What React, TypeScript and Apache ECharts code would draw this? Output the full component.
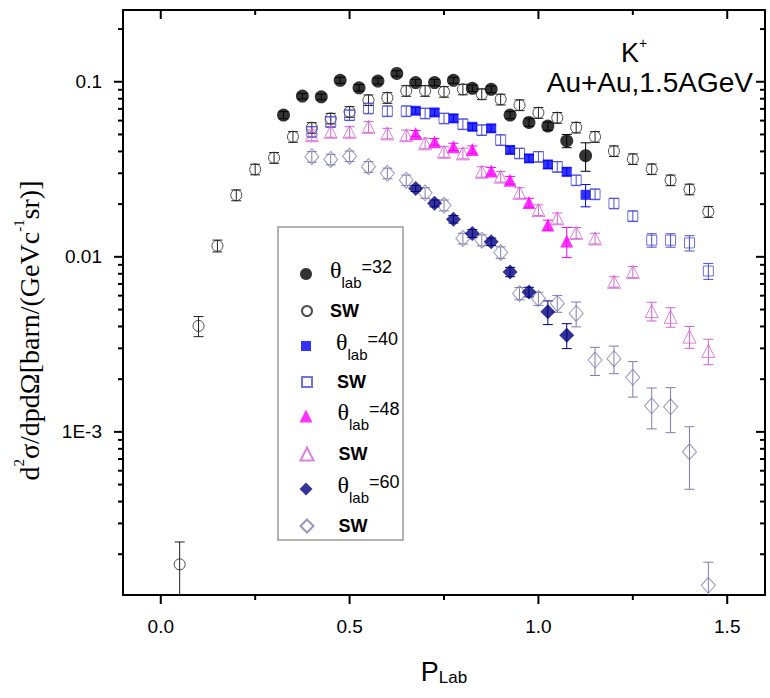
import React, { useEffect, useRef } from 'react';
import * as echarts from 'echarts';

const SANS = "'Liberation Sans', Arial, sans-serif";
const SERIF = "'Liberation Serif', 'Times New Roman', serif";

const X_MIN = -0.1;
const X_MAX = 1.6;
const Y_MIN = 1.17e-4;
const Y_MAX = 0.257;

const xMajorTicks = [0, 0.5, 1.0, 1.5];
const xMinorTicks = [0.25, 0.75, 1.25];
const yMajorTicks = [0.001, 0.01, 0.1];
const yMinorTicks = [
  2e-4, 3e-4, 4e-4, 5e-4, 6e-4, 7e-4, 8e-4, 9e-4,
  0.002, 0.003, 0.004, 0.005, 0.006, 0.007, 0.008, 0.009,
  0.02, 0.03, 0.04, 0.05, 0.06, 0.07, 0.08, 0.09, 0.2,
];
const yTickLabels: Record<string, string> = { '-3': '1E-3', '-2': '0.01', '-1': '0.1' };

// theta_lab = 32 (data)
const theta32X = [0.325, 0.375, 0.425, 0.475, 0.525, 0.575, 0.625, 0.675, 0.725, 0.775, 0.825, 0.875, 0.925, 0.975, 1.025, 1.075, 1.125];
const theta32Y = [0.0645, 0.0828, 0.082, 0.102, 0.0924, 0.101, 0.1116, 0.099, 0.099, 0.102, 0.0917, 0.0905, 0.0645, 0.0586, 0.0558, 0.046, 0.0378];
const theta32Err = [0.003, 0.003, 0.003, 0.004, 0.004, 0.004, 0.004, 0.004, 0.004, 0.004, 0.004, 0.004, 0.003, 0.003, 0.003, 0.004, 0.007];

// SW 32
const sw32X = [0.05, 0.1, 0.15, 0.2, 0.25, 0.3, 0.35, 0.4, 0.45, 0.5, 0.55, 0.6, 0.65, 0.7, 0.75, 0.8, 0.85, 0.9, 0.95, 1.0, 1.05, 1.1, 1.15, 1.2, 1.25, 1.3, 1.35, 1.4, 1.45];
const sw32Y = [1.75e-4, 0.00403, 0.01156, 0.0225, 0.0316, 0.0368, 0.0485, 0.0546, 0.0617, 0.0674, 0.0786, 0.081, 0.0888, 0.0888, 0.0877, 0.0905, 0.085, 0.0793, 0.0736, 0.0665, 0.0623, 0.0548, 0.0485, 0.0402, 0.0362, 0.0317, 0.0274, 0.0243, 0.0181];
const sw32Err = [0.6e-4, 0.00053, 0.0009, 0.0016, 0.0022, 0.0026, 0.0034, 0.0038, 0.0043, 0.0047, 0.0055, 0.0057, 0.0062, 0.0062, 0.0061, 0.0063, 0.006, 0.0056, 0.0052, 0.0047, 0.0044, 0.0038, 0.0034, 0.0028, 0.0025, 0.0022, 0.0019, 0.0017, 0.0013];

// theta_lab = 40
const theta40X = [0.675, 0.725, 0.775, 0.825, 0.875, 0.925, 0.975, 1.025, 1.075, 1.125];
const theta40Y = [0.0683, 0.0668, 0.0618, 0.0553, 0.0542, 0.0408, 0.0365, 0.0337, 0.0306, 0.0226];
const theta40Err = [0.003, 0.003, 0.003, 0.0025, 0.0025, 0.002, 0.0018, 0.0017, 0.0016, 0.0033];

// SW 40
const sw40X = [0.4, 0.45, 0.5, 0.55, 0.6, 0.65, 0.7, 0.75, 0.8, 0.85, 0.9, 0.95, 1.0, 1.05, 1.1, 1.15, 1.2, 1.25, 1.3, 1.35, 1.4, 1.45];
const sw40Y = [0.0518, 0.059, 0.0645, 0.0705, 0.068, 0.068, 0.066, 0.0618, 0.0573, 0.053, 0.0465, 0.039, 0.0373, 0.0327, 0.0274, 0.0228, 0.0202, 0.0171, 0.01245, 0.01245, 0.012, 0.0083];
const sw40Err = [0.0036, 0.0041, 0.0045, 0.0049, 0.0048, 0.0048, 0.0046, 0.0043, 0.004, 0.0037, 0.0033, 0.0027, 0.0026, 0.0023, 0.0019, 0.0016, 0.0014, 0.0012, 0.0011, 0.0011, 0.0012, 0.00087];

// theta_lab = 48
const theta48X = [0.675, 0.725, 0.775, 0.825, 0.875, 0.925, 0.975, 1.025, 1.075];
const theta48Y = [0.0507, 0.0454, 0.0425, 0.041, 0.0309, 0.0274, 0.0204, 0.0152, 0.0123];
const theta48Err = [0.002, 0.002, 0.002, 0.002, 0.0015, 0.0014, 0.0012, 0.001, 0.0024];

// SW 48
const sw48X = [0.4, 0.45, 0.5, 0.55, 0.6, 0.65, 0.7, 0.75, 0.8, 0.85, 0.9, 0.95, 1.0, 1.05, 1.1, 1.15, 1.2, 1.25, 1.3, 1.35, 1.4, 1.45];
const sw48Y = [0.0495, 0.0518, 0.0518, 0.0553, 0.0507, 0.0495, 0.0445, 0.0398, 0.039, 0.0306, 0.0287, 0.0232, 0.0185, 0.0166, 0.0137, 0.01274, 0.0072, 0.0082, 0.0049, 0.00454, 0.0035, 0.0029];
const sw48Err = [0.0035, 0.0036, 0.0036, 0.0039, 0.0035, 0.0035, 0.0031, 0.0028, 0.0027, 0.0021, 0.002, 0.0016, 0.0013, 0.0012, 0.001, 0.0009, 0.0005, 0.0006, 0.0006, 0.00058, 0.0005, 0.00048];

// theta_lab = 60
const theta60X = [0.675, 0.725, 0.775, 0.825, 0.875, 0.925, 0.975, 1.025, 1.075];
const theta60Y = [0.0246, 0.0202, 0.0164, 0.0136, 0.0122, 0.0082, 0.0063, 0.00485, 0.00357];
const theta60Err = [0.001, 0.0009, 0.0008, 0.0007, 0.0006, 0.0005, 0.0004, 0.00075, 0.00058];

// SW 60
const sw60X = [0.4, 0.45, 0.5, 0.55, 0.6, 0.65, 0.7, 0.75, 0.8, 0.85, 0.9, 0.95, 1.0, 1.05, 1.1, 1.15, 1.2, 1.25, 1.3, 1.35, 1.4, 1.45];
const sw60Y = [0.0373, 0.036, 0.0376, 0.0327, 0.03, 0.0274, 0.0232, 0.0197, 0.01274, 0.01245, 0.0106, 0.00618, 0.00578, 0.00542, 0.00475, 0.00257, 0.00262, 0.00205, 0.00141, 0.00139, 0.00077, 0.000133];
const sw60Err = [0.0026, 0.0025, 0.0026, 0.0023, 0.0021, 0.0019, 0.0016, 0.0014, 0.0009, 0.0009, 0.0008, 0.0005, 0.0005, 0.0006, 0.00077, 0.00047, 0.00047, 0.00047, 0.00037, 0.0004, 0.0003, 0.000047];

type Def = {
  name: string; legendText: string; x: number[]; y: number[]; err: number[];
  symbol: string; size: number | number[]; legendSize: number; color: string; filled: boolean;
  legendCenter: number; textPad: number;
};

const defs: Def[] = [
  { name: 'theta32', legendText: '=32', x: theta32X, y: theta32Y, err: theta32Err, symbol: 'circle', size: 13, legendSize: 12, color: '#000000', filled: true, legendCenter: 272, textPad: 13 },
  { name: 'sw32', legendText: 'SW', x: sw32X, y: sw32Y, err: sw32Err, symbol: 'circle', size: 11, legendSize: 10, color: '#222222', filled: false, legendCenter: 312, textPad: 13 },
  { name: 'theta40', legendText: '=40', x: theta40X, y: theta40Y, err: theta40Err, symbol: 'rect', size: 10, legendSize: 10, color: '#0000ff', filled: true, legendCenter: 344, textPad: 20 },
  { name: 'sw40', legendText: 'SW', x: sw40X, y: sw40Y, err: sw40Err, symbol: 'rect', size: 10, legendSize: 10, color: '#4e4ed2', filled: false, legendCenter: 383, textPad: 20 },
  { name: 'theta48', legendText: '=48', x: theta48X, y: theta48Y, err: theta48Err, symbol: 'triangle', size: 13, legendSize: 13, color: '#ff00ff', filled: true, legendCenter: 414, textPad: 20 },
  { name: 'sw48', legendText: 'SW', x: sw48X, y: sw48Y, err: sw48Err, symbol: 'triangle', size: 13, legendSize: 13, color: '#d464d4', filled: false, legendCenter: 455, textPad: 20 },
  { name: 'theta60', legendText: '=60', x: theta60X, y: theta60Y, err: theta60Err, symbol: 'diamond', size: 15, legendSize: 13, color: '#000080', filled: true, legendCenter: 487, textPad: 20 },
  { name: 'sw60', legendText: 'SW', x: sw60X, y: sw60Y, err: sw60Err, symbol: 'diamond', size: [14, 16], legendSize: 13, color: '#7e7eae', filled: false, legendCenter: 527, textPad: 20 },
];

const drawOrder = ['sw32', 'sw40', 'sw48', 'sw60', 'theta32', 'theta40', 'theta48', 'theta60'];

function errSeries(d: Def) {
  return {
    type: 'custom',
    name: d.name + '-err',
    silent: true,
    clip: true,
    z: 2,
    data: d.x.map((v, i) => [v, d.y[i], d.err[i]]),
    encode: { x: 0, y: 1 },
    renderItem: (params: any, api: any) => {
      const x = api.value(0);
      const y = api.value(1);
      const e = api.value(2);
      const c = api.coord([x, y]);
      const hi = api.coord([x, y + e]);
      const lo = y - e > 0 ? api.coord([x, y - e]) : [c[0], c[1] + 1000];
      const hw = 5;
      return {
        type: 'group',
        children: [
          { type: 'line', shape: { x1: c[0], y1: hi[1], x2: c[0], y2: lo[1] }, style: { stroke: d.color, lineWidth: 1 } },
          { type: 'line', shape: { x1: c[0] - hw, y1: hi[1], x2: c[0] + hw, y2: hi[1] }, style: { stroke: d.color, lineWidth: 1 } },
          { type: 'line', shape: { x1: c[0] - hw, y1: lo[1], x2: c[0] + hw, y2: lo[1] }, style: { stroke: d.color, lineWidth: 1 } },
        ],
      };
    },
  };
}

function scatterSeries(d: Def) {
  return {
    type: 'scatter',
    name: d.name,
    z: 3,
    symbol: d.symbol,
    symbolSize: d.size,
    data: d.x.map((v, i) => [v, d.y[i]]),
    itemStyle: d.filled
      ? { color: d.color, borderWidth: 0 }
      : { color: 'rgba(255,255,255,0)', borderColor: d.color, borderWidth: 1 },
    emphasis: { disabled: true },
  };
}

function legendFor(d: Def) {
  const isTheta = d.name.startsWith('theta');
  const blockH = isTheta ? 36 : 20;
  return {
    data: [d.name],
    orient: 'vertical',
    left: 306 - d.legendSize / 2,
    top: d.legendCenter - blockH / 2,
    padding: 0,
    itemGap: 0,
    itemWidth: d.legendSize,
    itemHeight: d.legendSize,
    selectedMode: false,
    formatter: () => (isTheta ? `{t|θ}{s|lab}{n|${d.legendText}}` : `{w|SW}`),
    textStyle: {
      color: '#000',
      rich: {
        t: { fontFamily: SERIF, fontSize: 24, lineHeight: 32, verticalAlign: 'top', color: '#000', padding: [0, 0, 0, d.textPad] },
        s: { fontFamily: SANS, fontSize: 15, lineHeight: 15, verticalAlign: 'bottom', color: '#000', padding: [21, 0, 0, 0] },
        n: { fontFamily: SANS, fontSize: 18, lineHeight: 30, verticalAlign: 'top', color: '#000' },
        w: { fontFamily: SANS, fontSize: 18, fontWeight: 'bold', lineHeight: 20, color: '#000', padding: [0, 0, 0, d.textPad] },
      },
    },
  };
}

const lineStyle = { color: '#000', width: 2 };

const baseGraphic: any[] = [
  {
    id: 'legendBox',
    type: 'rect',
    shape: { x: 278, y: 227, width: 125, height: 313 },
    style: { fill: 'transparent', stroke: '#9a9a9a', lineWidth: 1.5 },
    z: 1,
  },
  {
    id: 'kplus',
    type: 'text',
    x: 621,
    y: 36,
    style: {
      text: '{k|K}{p|+}',
      rich: {
        k: { fontFamily: SANS, fontSize: 27, lineHeight: 30, verticalAlign: 'bottom', fill: '#000' },
        p: { fontFamily: SANS, fontSize: 14, lineHeight: 14, verticalAlign: 'top', fill: '#000' },
      },
    },
  },
  {
    id: 'system',
    type: 'text',
    x: 753,
    y: 82,
    style: {
      text: 'Au+Au,1.5AGeV',
      fontFamily: SANS,
      fontSize: 28,
      fill: '#000',
      align: 'right',
      verticalAlign: 'middle',
    },
  },
];

function buildOption() {
  const byName: Record<string, Def> = {};
  defs.forEach((d) => (byName[d.name] = d));
  const series: any[] = [];
  drawOrder.forEach((n) => series.push(errSeries(byName[n])));
  drawOrder.forEach((n) => series.push(scatterSeries(byName[n])));

  const xBase = {
    type: 'value',
    min: X_MIN,
    max: X_MAX,
    splitNumber: 3,
    splitLine: { show: false },
    axisLine: { show: true, onZero: false, lineStyle },
    axisTick: { show: false },
    minorTick: { show: false },
  };
  const yBase = {
    type: 'log',
    logBase: 10,
    min: Y_MIN,
    max: Y_MAX,
    splitNumber: 3,
    splitLine: { show: false },
    axisLine: { show: true, onZero: false, lineStyle },
    axisTick: { show: false },
    minorTick: { show: false },
  };

  return {
    animation: false,
    backgroundColor: '#ffffff',
    grid: { left: 123, top: 10, right: 5, bottom: 103 },
    xAxis: [
      {
        ...xBase,
        position: 'bottom',
        axisLabel: {
          color: '#000', fontFamily: SANS, fontSize: 19, margin: 22,
          showMinLabel: false, showMaxLabel: false,
          formatter: (v: number) => v.toFixed(1),
        },
        name: '{p|P}{s|Lab}',
        nameLocation: 'middle',
        nameGap: 63,
        nameTextStyle: {
          color: '#000',
          rich: {
            p: { fontFamily: SANS, fontSize: 27, lineHeight: 28, verticalAlign: 'top', color: '#000' },
            s: { fontFamily: SANS, fontSize: 17, lineHeight: 17, verticalAlign: 'bottom', color: '#000', padding: [18, 0, 0, 0] },
          },
        },
      },
      { ...xBase, position: 'top', axisLabel: { show: false } },
    ],
    yAxis: [
      {
        ...yBase,
        position: 'left',
        axisLabel: {
          color: '#000', fontFamily: SANS, fontSize: 19, margin: 21,
          showMinLabel: false, showMaxLabel: false,
          formatter: (v: number) => {
            const k = Math.log10(v);
            const r = Math.round(k);
            return Math.abs(k - r) < 1e-6 ? yTickLabels[String(r)] || '' : '';
          },
        },
        name: '{m|d}{p|2}{m|σ/dpdΩ[barn/(GeVc}{p|-1}{m|sr)]}',
        nameLocation: 'middle',
        nameGap: 80,
        nameTextStyle: {
          color: '#000',
          padding: [0, 56, 0, 0],
          rich: {
            m: { fontFamily: SERIF, fontSize: 28, lineHeight: 32, verticalAlign: 'bottom', color: '#000' },
            p: { fontFamily: SERIF, fontSize: 15, lineHeight: 15, verticalAlign: 'top', color: '#000' },
          },
        },
      },
      { ...yBase, position: 'right', axisLabel: { show: false } },
    ],
    legend: defs.map(legendFor),
    graphic: baseGraphic,
    series,
  };
}

function tickLine(id: string, x1: number, y1: number, x2: number, y2: number) {
  return {
    id,
    type: 'line',
    silent: true,
    z: 10,
    shape: { x1, y1, x2, y2 },
    style: { stroke: '#000', lineWidth: 2 },
  };
}

function buildTicks(chart: any) {
  const toPx = (x: number, y: number) =>
    chart.convertToPixel({ xAxisIndex: 0, yAxisIndex: 0 }, [x, y]) as number[];
  const els: any[] = [];
  const addX = (vals: number[], len: number, tag: string) => {
    vals.forEach((v, i) => {
      const b = toPx(v, Y_MIN);
      const t = toPx(v, Y_MAX);
      els.push(tickLine(`xb-${tag}-${i}`, b[0], b[1], b[0], b[1] + len));
      els.push(tickLine(`xt-${tag}-${i}`, t[0], t[1], t[0], t[1] + len));
    });
  };
  const addY = (vals: number[], len: number, tag: string) => {
    vals.forEach((v, i) => {
      const l = toPx(X_MIN, v);
      const r = toPx(X_MAX, v);
      els.push(tickLine(`yl-${tag}-${i}`, l[0] - len, l[1], l[0], l[1]));
      els.push(tickLine(`yr-${tag}-${i}`, r[0] - len, r[1], r[0], r[1]));
    });
  };
  addX(xMajorTicks, 9, 'M');
  addX(xMinorTicks, 5, 'm');
  addY(yMajorTicks, 9, 'M');
  addY(yMinorTicks, 5, 'm');
  return els;
}

export default function App() {
  const ref = useRef<HTMLDivElement>(null);
  useEffect(() => {
    if (!ref.current) return;
    const chart = echarts.init(ref.current, null, { renderer: 'svg' });
    chart.setOption(buildOption() as any);
    chart.setOption({ graphic: [...baseGraphic, ...buildTicks(chart)] } as any);
    return () => chart.dispose();
  }, []);
  return (
    <div
      ref={ref}
      style={{ position: 'fixed', left: 0, top: 0, width: 770, height: 698, background: '#fff' }}
    />
  );
}
